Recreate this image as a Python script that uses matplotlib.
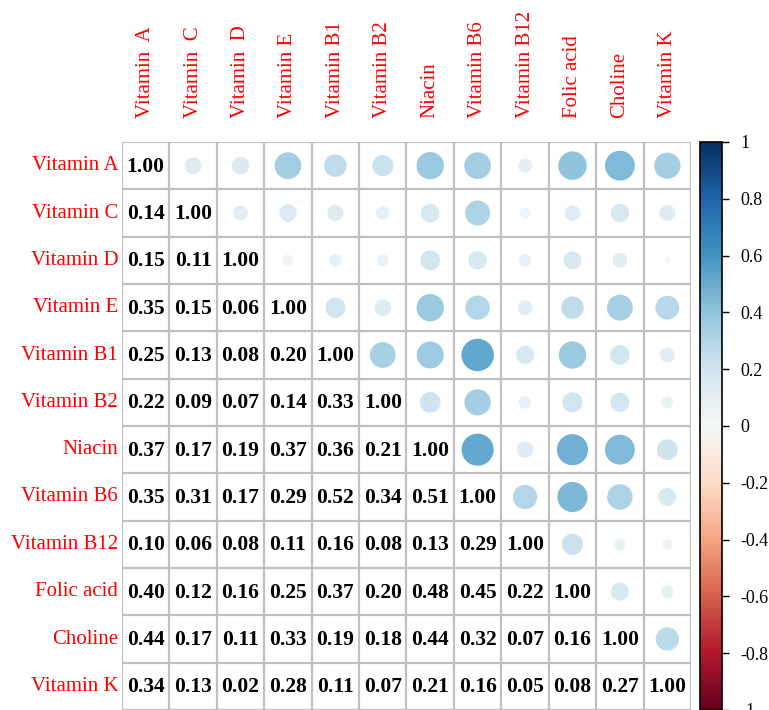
import numpy as np
import matplotlib
matplotlib.use('Agg')
import matplotlib.pyplot as plt
from matplotlib.patches import Circle
from matplotlib.colors import Normalize
import matplotlib.cm as cm

plt.rcParams['font.family'] = ['Liberation Serif', 'DejaVu Serif']

row_names = ['Vitamin A', 'Vitamin C', 'Vitamin D', 'Vitamin E', 'Vitamin B1', 'Vitamin B2',
             'Niacin', 'Vitamin B6', 'Vitamin B12', 'Folic acid', 'Choline', 'Vitamin K']
col_names = ['Vitamin  A', 'Vitamin  C', 'Vitamin  D', 'Vitamin E', 'Vitamin B1', 'Vitamin B2',
             'Niacin', 'Vitamin B6', 'Vitamin B12', 'Folic acid', 'Choline', 'Vitamin K']

# lower triangle rows (without diagonal)
lower = [
    [],
    [0.14],
    [0.15, 0.11],
    [0.35, 0.15, 0.06],
    [0.25, 0.13, 0.08, 0.20],
    [0.22, 0.09, 0.07, 0.14, 0.33],
    [0.37, 0.17, 0.19, 0.37, 0.36, 0.21],
    [0.35, 0.31, 0.17, 0.29, 0.52, 0.34, 0.51],
    [0.10, 0.06, 0.08, 0.11, 0.16, 0.08, 0.13, 0.29],
    [0.40, 0.12, 0.16, 0.25, 0.37, 0.20, 0.48, 0.45, 0.22],
    [0.44, 0.17, 0.11, 0.33, 0.19, 0.18, 0.44, 0.32, 0.07, 0.16],
    [0.34, 0.13, 0.02, 0.28, 0.11, 0.07, 0.21, 0.16, 0.05, 0.08, 0.27],
]
cbar_ticks = [1, 0.8, 0.6, 0.4, 0.2, 0, -0.2, -0.4, -0.6, -0.8, -1]
cbar_labels = ['1', '0.8', '0.6', '0.4', '0.2', '0', '-0.2', '-0.4', '-0.6', '-0.8', '-1']

n = len(row_names)
M = np.eye(n)
for i, row in enumerate(lower):
    for j, v in enumerate(row):
        M[i, j] = v
        M[j, i] = v

cmap = plt.get_cmap('RdBu')
norm = Normalize(vmin=-1, vmax=1)

fig = plt.figure(figsize=(7.69, 7.10), dpi=100)
ax = fig.add_axes([0.1586, 0.0, 0.740, 0.8])
ax.set_xlim(0, n)
ax.set_ylim(n, 0)

for i in range(n):
    for j in range(n):
        if j <= i:
            ax.text(j + 0.5, i + 0.52, '%.2f' % M[i, j], ha='center', va='center',
                    fontsize=15.5, fontweight='bold', color='black')
        else:
            r = 0.475 * np.sqrt(abs(M[i, j]))
            ax.add_patch(Circle((j + 0.5, i + 0.5), r, facecolor=cmap(norm(M[i, j])),
                                edgecolor='none'))

for k in range(n + 1):
    ax.axhline(k, color='#c0c0c0', lw=1.6, zorder=3)
    ax.axvline(k, color='#c0c0c0', lw=1.6, zorder=3)

ax.set_xticks([])
ax.set_yticks([])
for s in ax.spines.values():
    s.set_visible(False)

for i, name in enumerate(row_names):
    ax.text(-0.08, i + 0.5, name, ha='right', va='center', color='red', fontsize=15)
for j, name in enumerate(col_names):
    ax.text(j + 0.5, -0.5, name, ha='center', va='bottom', rotation=90, color='red', fontsize=15)

# colorbar
cax = fig.add_axes([700 / 769, 0.0, 22 / 769, 0.8])
sm = cm.ScalarMappable(norm=norm, cmap=cmap)
cb = fig.colorbar(sm, cax=cax)
cb.set_ticks(cbar_ticks)
cb.set_ticklabels(cbar_labels)
cb.outline.set_linewidth(1.2)
cax.tick_params(labelsize=13, length=5, width=1, direction='out', pad=8)

fig.savefig('out.png', dpi=100)
